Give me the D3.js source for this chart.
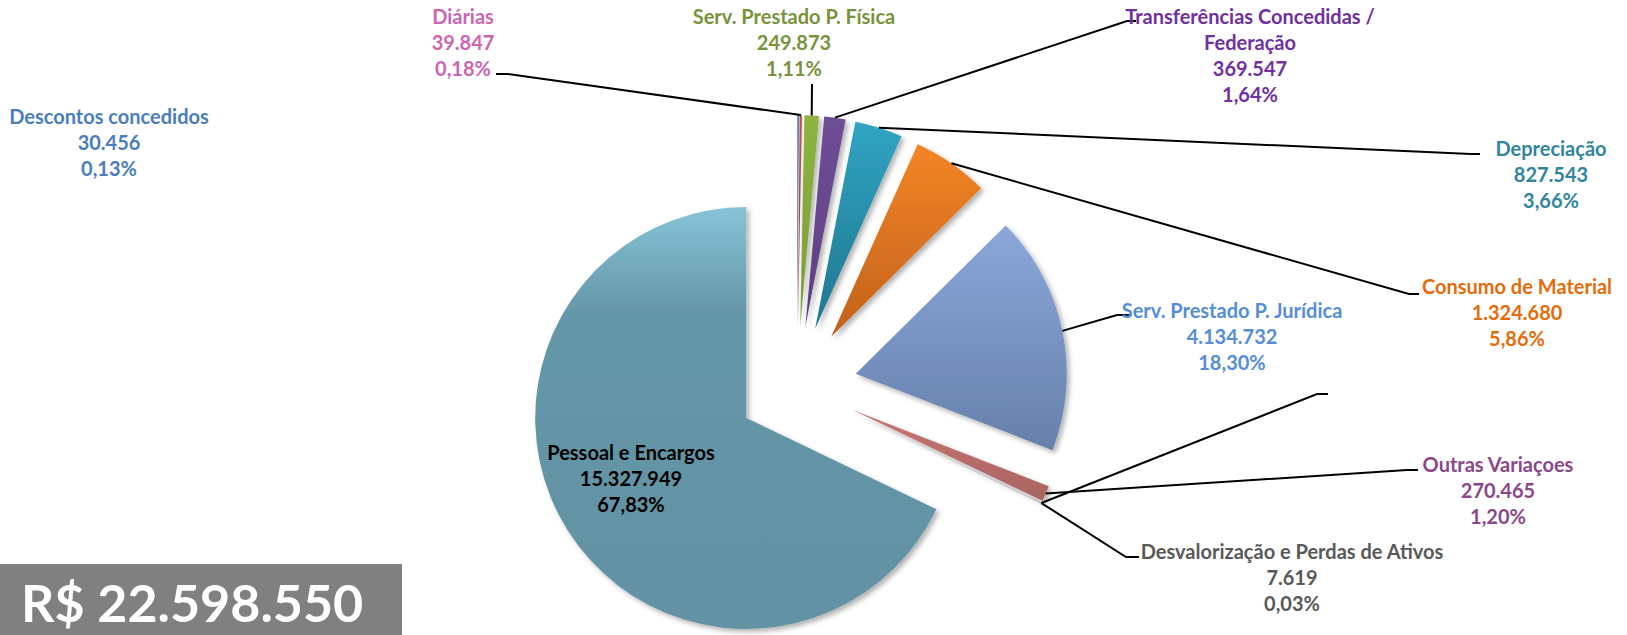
<!DOCTYPE html>
<html>
<head>
<meta charset="utf-8">
<script src="https://cdn.jsdelivr.net/npm/d3@7"></script>
<style>
  body { margin: 0; background: #fff; }
  svg text { font-family: Lato, "Open Sans", sans-serif; font-weight: bold; }
</style>
</head>
<body>
<div id="chart"></div>
<script>
var width = 1627;
var height = 635;

// data (clockwise from 12 o'clock)
var categories = ["Descontos concedidos", "Diárias", "Serv. Prestado P. Física",
  "Transferências Concedidas /|Federação", "Depreciação", "Consumo de Material",
  "Serv. Prestado P. Jurídica", "Outras Variaçoes", "Desvalorização e Perdas de Ativos",
  "Pessoal e Encargos"];
var values = [30456, 39847, 249873, 369547, 827543, 1324680, 4134732, 270465, 7619, 15327949];
var total = 22598550;

// styles
var sliceTop = ["#4f81bd", "#c0504d", "#8db440", "#6f4e98", "#30a4c3", "#f28526", "#8ba7da", "#c97774", "#b0b0b0", "#87c3d7"];
var sliceBottom = ["#41699a", "#9e403e", "#7a9c37", "#5c3f7e", "#21768d", "#c2611c", "#6680aa", "#a96460", "#8a8a8a", "#6292a3"];
var labelColors = ["#4a7ebb", "#cc66b3", "#77933c", "#7030a0", "#31859c", "#e46c0a", "#558ed5", "#8b4789", "#595959", "#000000"];

// label layout: centre x, first line centre y
var labelX = [109, 463, 794, 1250, 1551, 1517, 1232, 1498, 1292, 631];
var labelY = [117, 17, 17, 17, 149, 287, 311, 465, 552, 453];
// leader lines: [elbow x, elbow y, end x] (null = no leader)
var leaders = [null, [508, 74, 496], [812, 84, 812], [1127, 21, 1136], [1471, 154, 1480],
  [1409, 294, 1419], [1117, 315, 1130], [1407, 470, 1418], [1126, 557, 1139], null];
// leader left without a label in the original
var strayLeader = { slice: 8, elbow: [1317, 394, 1328] };

var cx = 797, cy = 386, radius = 211, explode = 60;

var loc = d3.formatLocale({ decimal: ",", thousands: ".", grouping: [3], currency: ["R$ ", ""] });
var fmtNum = loc.format(",");
var fmtPct = loc.format(".2%");

var svg = d3.select("#chart").append("svg")
  .attr("width", width)
  .attr("height", height);

var defs = svg.append("defs");
var shadow = defs.append("filter").attr("id", "shadow")
  .attr("x", "-20%").attr("y", "-20%").attr("width", "140%").attr("height", "140%");
shadow.append("feDropShadow")
  .attr("dx", 3).attr("dy", 3).attr("stdDeviation", 2.5)
  .attr("flood-color", "#000").attr("flood-opacity", 0.3);

categories.forEach(function (c, i) {
  var g = defs.append("linearGradient").attr("id", "grad" + i)
    .attr("x1", 0).attr("y1", 0).attr("x2", 0).attr("y2", 1);
  g.append("stop").attr("offset", "0%").attr("stop-color", sliceTop[i]);
  if (i == 9) {
    g.append("stop").attr("offset", "25%").attr("stop-color", "#6497a8");
  }
  g.append("stop").attr("offset", "100%").attr("stop-color", sliceBottom[i]);
});

var pie = d3.pie().sort(null).value(function (d) { return d; });
var arcs = pie(values);
var arc = d3.arc().innerRadius(0).outerRadius(radius);

function mid(d) { return (d.startAngle + d.endAngle) / 2; }
function offset(d, r) {
  var a = mid(d);
  return [cx + Math.sin(a) * r, cy - Math.cos(a) * r];
}

svg.append("g")
  .attr("class", "slices")
  .selectAll("path")
  .data(arcs)
  .enter().append("path")
  .attr("transform", function (d) { var p = offset(d, explode); return "translate(" + p[0] + "," + p[1] + ")"; })
  .attr("d", arc)
  .attr("fill", function (d, i) { return "url(#grad" + i + ")"; })
  .attr("filter", "url(#shadow)");

// leader lines
var lines = svg.append("g").attr("class", "leaders")
  .attr("fill", "none").attr("stroke", "#000").attr("stroke-width", 2);

function leaderPath(d, l) {
  var a = offset(d, explode + radius);
  return "M" + a[0] + "," + a[1] + "L" + l[0] + "," + l[1] + "L" + l[2] + "," + l[1];
}

arcs.forEach(function (d, i) {
  if (!leaders[i]) return;
  lines.append("path").attr("d", leaderPath(d, leaders[i]));
});
lines.append("path").attr("d", leaderPath(arcs[strayLeader.slice], strayLeader.elbow));

// labels
var labels = svg.append("g").attr("class", "labels")
  .selectAll("text")
  .data(arcs)
  .enter().append("text")
  .attr("text-anchor", "middle")
  .attr("font-size", 20)
  .attr("fill", function (d, i) { return labelColors[i]; });

labels.each(function (d, i) {
  var rows = categories[i].split("|");
  rows.push(fmtNum(values[i]));
  rows.push(fmtPct(values[i] / total));
  var t = d3.select(this);
  rows.forEach(function (r, k) {
    t.append("tspan")
      .attr("x", labelX[i])
      .attr("y", labelY[i] + k * 26)
      .attr("dy", "0.35em")
      .text(r);
  });
});

// total box
svg.append("rect")
  .attr("x", 0).attr("y", 564)
  .attr("width", 402).attr("height", 71)
  .attr("fill", "#808080");
svg.append("text")
  .attr("x", 21).attr("y", 622)
  .attr("font-size", 52)
  .attr("fill", "#fff")
  .text(loc.format("$,")(total));
</script>
</body>
</html>
